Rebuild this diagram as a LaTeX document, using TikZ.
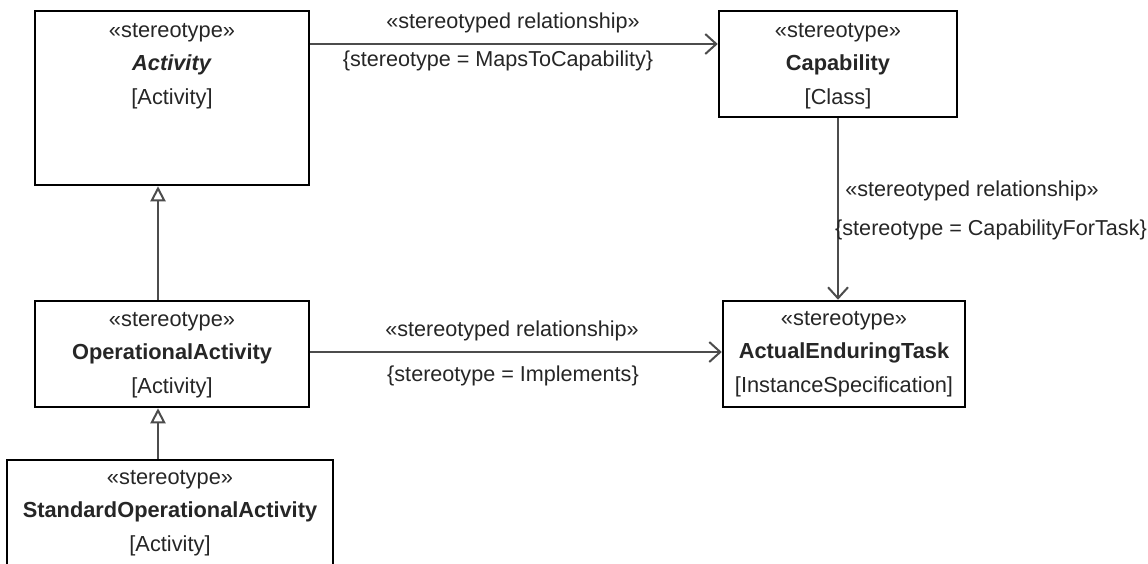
\documentclass[tikz,border=0pt]{standalone}
\usepackage{fontspec}
\setmainfont{Liberation Sans}
\usetikzlibrary{arrows.meta}
\begin{document}
\begin{tikzpicture}[x=1pt,y=-1pt,
 box/.style={draw=black, line width=2.5pt, fill=white, inner sep=0pt},
 txt/.style={align=center, inner sep=0pt, text=black!85, font=\fontsize{21.8}{33.5}\selectfont},
 lbl/.style={inner sep=0pt, text=black!85, font=\fontsize{21.6}{26}\selectfont},
 assoc/.style={draw=black!70, line width=2pt, -{Straight Barb[length=11pt,width=20pt]}},
 gen/.style={draw=black!70, line width=2pt, -{Triangle[open,length=15pt,width=15pt,fill=white]}}]
\clip (0,0) rectangle (1148,563);
\fill[white] (0,0) rectangle (1148,563);
% boxes
\node[box, minimum width=274pt, minimum height=174pt] (act) at (172,98) {};
\node[box, minimum width=238pt, minimum height=106pt] (cap) at (838,64) {};
\node[box, minimum width=274pt, minimum height=106pt] (op) at (172,354) {};
\node[box, minimum width=242pt, minimum height=106pt] (aet) at (844,354) {};
\node[box, minimum width=326pt, minimum height=140pt] (soa) at (170,530) {};
% texts
\node[txt] (actT) at (172,66) {«stereotype»\\\textbf{\textit{Activity}}\\{[Activity]}};
\node[txt] (capT) at (838,66) {«stereotype»\\\textbf{Capability}\\{[Class]}};
\node[txt] (opT) at (172,355) {«stereotype»\\\textbf{OperationalActivity}\\{[Activity]}};
\node[txt] (aetT) at (844,354) {«stereotype»\\\textbf{ActualEnduringTask}\\{[InstanceSpecification]}};
\node[txt] (soaT) at (170,513) {«stereotype»\\\textbf{StandardOperationalActivity}\\{[Activity]}};
% helper coordinates
\coordinate (r1) at (0,44);
\coordinate (r2) at (0,352);
\coordinate (g) at (158,0);
% connectors
\draw[assoc] (act.east |- r1) -- (cap.west |- r1);
\draw[assoc] (cap.south) -- (aet.north -| cap.south);
\draw[assoc] (op.east |- r2) -- (aet.west |- r2);
\draw[gen] (op.north -| g) -- (act.south -| g);
\draw[gen] (soa.north -| g) -- (op.south -| g);
% labels
\node[lbl] (l1) at (513,23) {«stereotyped relationship»};
\node[lbl] (l2) at (498,61) {\{stereotype = MapsToCapability\}};
\node[lbl] (l3) at (972,191) {«stereotyped relationship»};
\node[lbl] (l4) at (991,230) {\{stereotype = CapabilityForTask\}};
\node[lbl] (l5) at (512,331) {«stereotyped relationship»};
\node[lbl] (l6) at (513,376) {\{stereotype = Implements\}};
\end{tikzpicture}
\end{document}
